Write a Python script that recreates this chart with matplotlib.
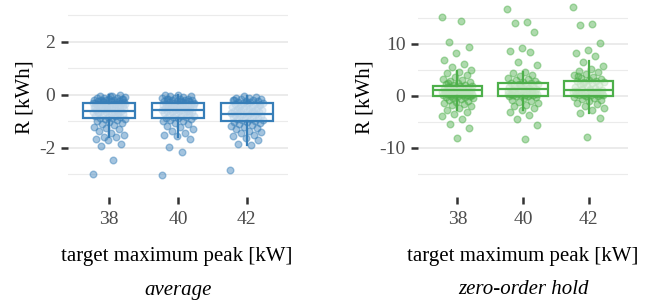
import matplotlib

matplotlib.use("Agg")
import matplotlib.pyplot as plt
import numpy as np

plt.rcParams["font.family"] = ["Liberation Serif", "DejaVu Serif"]

# categories on the x axis (target maximum peak, kW)
peaks = ["38", "40", "42"]

# --- "average" panel: R [kWh] per run
avg_38 = [-2.98, -2.45, -1.92, -1.85, -1.72, -1.65, -1.6, -1.58, -1.5, -1.42,
          -1.38, -1.3, -1.25, -1.2, -1.15, -1.1, -1.05, -1.02, -0.98, -0.95,
          -0.92, -0.9, -0.88, -0.86, -0.84, -0.82, -0.8, -0.78, -0.76, -0.74,
          -0.72, -0.7, -0.68, -0.66, -0.65, -0.63, -0.62, -0.6, -0.59, -0.58,
          -0.56, -0.55, -0.53, -0.52, -0.5, -0.49, -0.48, -0.46, -0.45, -0.44,
          -0.42, -0.41, -0.4, -0.38, -0.37, -0.36, -0.35, -0.34, -0.32, -0.31,
          -0.3, -0.28, -0.27, -0.26, -0.25, -0.24, -0.22, -0.21, -0.2, -0.19,
          -0.18, -0.16, -0.15, -0.13, -0.12, -0.1, -0.08, -0.06, -0.04, -0.02,
          -0.55, -0.45, -0.35, -0.25, -0.15, -0.05, -0.65, -0.7, -0.4, -0.3]
avg_40 = [-3.02, -2.17, -1.96, -1.67, -1.55, -1.5, -1.42, -1.35, -1.28, -1.22,
          -1.16, -1.1, -1.05, -1.0, -0.97, -0.94, -0.91, -0.89, -0.87, -0.85,
          -0.83, -0.8, -0.78, -0.76, -0.74, -0.72, -0.7, -0.68, -0.66, -0.64,
          -0.62, -0.61, -0.6, -0.58, -0.57, -0.56, -0.54, -0.53, -0.52, -0.5,
          -0.49, -0.47, -0.46, -0.45, -0.43, -0.42, -0.41, -0.39, -0.38, -0.37,
          -0.35, -0.34, -0.33, -0.31, -0.3, -0.29, -0.27, -0.26, -0.25, -0.24,
          -0.22, -0.21, -0.2, -0.18, -0.17, -0.15, -0.14, -0.12, -0.1, -0.08,
          -0.06, -0.04, -0.02, 0.0, -0.55, -0.45, -0.35, -0.25, -0.15, -0.6]
avg_42 = [-2.82, -1.89, -1.85, -1.7, -1.62, -1.55, -1.5, -1.45, -1.4, -1.35,
          -1.3, -1.26, -1.22, -1.18, -1.14, -1.1, -1.07, -1.04, -1.01, -0.98,
          -0.96, -0.94, -0.92, -0.9, -0.88, -0.86, -0.84, -0.82, -0.8, -0.78,
          -0.76, -0.75, -0.73, -0.72, -0.7, -0.69, -0.67, -0.66, -0.64, -0.62,
          -0.6, -0.58, -0.56, -0.54, -0.52, -0.5, -0.48, -0.46, -0.44, -0.42,
          -0.4, -0.38, -0.36, -0.34, -0.32, -0.3, -0.28, -0.26, -0.24, -0.22,
          -0.2, -0.18, -0.16, -0.14, -0.12, -0.1, -0.08, -0.05, -0.7, -0.6,
          -0.5, -0.4, -0.3, -0.2]

# box statistics (lower whisker, q1, median, q3, upper whisker)
avg_lo = [-1.6, -1.6, -1.89]
avg_q1 = [-0.88, -0.89, -0.97]
avg_med = [-0.6, -0.58, -0.73]
avg_q3 = [-0.32, -0.29, -0.31]
avg_hi = [-0.02, 0.0, -0.05]

# --- "zero-order hold" panel
zoh_38 = [15.2, 14.3, 10.4, 9.4, 8.15, 6.9, 6.2, 5.5, 5.0, 4.6, 4.4, 4.0, 3.6,
          3.3, 3.0, 2.8, 2.6, 2.4, 2.2, 2.1, 2.0, 1.9, 1.8, 1.7, 1.6, 1.5, 1.4,
          1.3, 1.2, 1.1, 1.0, 0.95, 0.9, 0.85, 0.8, 0.75, 0.7, 0.65, 0.6, 0.55,
          0.5, 0.45, 0.4, 0.35, 0.3, 0.25, 0.2, 0.15, 0.1, 0.05, 0.0, -0.1,
          -0.2, -0.3, -0.4, -0.5, -0.6, -0.8, -1.0, -1.2, -1.4, -1.6, -1.8,
          -2.0, -2.4, -2.7, -3.1, -3.4, -3.8, -4.35, -5.4, -6.15, -8.1,
          1.0, 0.5, 1.5, 0.2, 0.8, 2.5]
zoh_40 = [16.6, 14.1, 14.0, 12.2, 9.1, 8.65, 8.5, 6.4, 6.0, 4.6, 4.4, 4.0, 3.8,
          3.5, 3.2, 3.0, 2.8, 2.6, 2.5, 2.4, 2.3, 2.2, 2.1, 2.0, 1.9, 1.8, 1.7,
          1.6, 1.5, 1.4, 1.3, 1.2, 1.1, 1.0, 0.9, 0.8, 0.7, 0.6, 0.5, 0.45,
          0.4, 0.35, 0.3, 0.25, 0.2, 0.15, 0.1, 0.05, 0.0, -0.1, -0.3, -0.5,
          -0.7, -0.9, -1.1, -1.4, -1.7, -2.0, -2.4, -2.8, -3.1, -3.6, -4.5,
          -5.5, -8.2, 1.2, 0.6, 2.0, 0.3, 1.6]
zoh_42 = [17.0, 13.8, 13.6, 10.1, 8.8, 8.3, 7.6, 6.5, 5.8, 5.2, 4.7, 4.5, 4.2,
          4.0, 3.7, 3.5, 3.3, 3.1, 2.9, 2.8, 2.7, 2.6, 2.5, 2.3, 2.1, 1.9, 1.7,
          1.5, 1.3, 1.2, 1.1, 1.0, 0.9, 0.8, 0.7, 0.6, 0.5, 0.45, 0.4, 0.35,
          0.3, 0.25, 0.2, 0.15, 0.1, 0.05, 0.0, -0.2, -0.4, -0.6, -0.8, -1.0,
          -1.3, -1.6, -2.0, -2.3, -2.7, -3.2, -4.2, -7.9, 1.0, 0.6, 2.2, 0.3,
          1.4, 3.8]

zoh_lo = [-2.75, -2.75, -3.2]
zoh_q1 = [0.05, 0.05, 0.05]
zoh_med = [1.05, 1.25, 1.1]
zoh_q3 = [1.95, 2.55, 2.8]
zoh_hi = [4.7, 4.6, 6.7]

BLUE = "#377eb8"
GREEN = "#4daf4a"
W, H = 670, 308


def px_axes(fig, left, top, right, bottom):
    # axes placed in pixel coords (origin at the top left)
    return fig.add_axes([left / W, 1 - bottom / H, (right - left) / W, (bottom - top) / H])


def px_text(fig, x, y, s, **kw):
    fig.text(x / W, 1 - y / H, s, ha="center", va="center", **kw)


def jitter(n, width=0.24):
    # deterministic low-discrepancy spread, only a horizontal offset
    return ((np.arange(n) * 0.6180339887) % 1.0 - 0.5) * 2 * width


def panel(ax, groups, lo, q1, med, q3, hi, color, ylim, majors, minors):
    for i, vals in enumerate(groups):
        vals = np.asarray(vals)
        ax.plot(i + jitter(len(vals)), vals, "o", ms=4.8, mfc=color, mec=color,
                mew=1.0, alpha=0.45, zorder=2)
    stats = [
        {"whislo": lo[i], "q1": q1[i], "med": med[i], "q3": q3[i], "whishi": hi[i]}
        for i in range(len(groups))
    ]
    ax.bxp(stats, positions=range(len(groups)), widths=0.75, showfliers=False,
           showcaps=False, patch_artist=True,
           boxprops=dict(facecolor=(1, 1, 1, 0.65), edgecolor=color, linewidth=1.6),
           medianprops=dict(color=color, linewidth=1.6),
           whiskerprops=dict(color=color, linewidth=1.6), manage_ticks=False, zorder=3)

    ax.set_xlim(-0.6, 2.6)
    ax.set_ylim(*ylim)
    ax.set_xticks(range(len(peaks)))
    ax.set_xticklabels(peaks)
    ax.set_yticks(majors)
    ax.set_yticks(minors, minor=True)
    ax.set_yticklabels([str(m) for m in majors])
    ax.grid(which="major", axis="y", color="#ebebeb", linewidth=1.4, zorder=0)
    ax.grid(which="minor", axis="y", color="#ebebeb", linewidth=0.8, zorder=0)
    ax.set_axisbelow(True)
    for s in ax.spines.values():
        s.set_visible(False)
    ax.tick_params(axis="both", which="major", length=5, width=1.8, color="#333333",
                   labelsize=14, labelcolor="#4d4d4d")
    ax.tick_params(axis="x", pad=5)
    ax.tick_params(axis="y", pad=4)
    ax.tick_params(axis="y", which="minor", length=0)


fig = plt.figure(figsize=(W / 100, H / 100), dpi=100)

ax1 = px_axes(fig, 68, 2, 288, 197)
panel(ax1, [avg_38, avg_40, avg_42], avg_lo, avg_q1, avg_med, avg_q3, avg_hi, BLUE,
      (-3.85, 3.5), [-2, 0, 2], [-3, -1, 1, 3])

ax2 = px_axes(fig, 418, 2, 628, 197)
panel(ax2, [zoh_38, zoh_40, zoh_42], zoh_lo, zoh_q1, zoh_med, zoh_q3, zoh_hi, GREEN,
      (-19.4, 18.0), [-10, 0, 10], [-15, -5, 5, 15])

# axis titles and captions, placed by pixel centre
px_text(fig, 25, 97, "R [kWh]", rotation=90, fontsize=15)
px_text(fig, 365, 97, "R [kWh]", rotation=90, fontsize=15)
px_text(fig, 177, 257, "target maximum peak [kW]", fontsize=15)
px_text(fig, 523, 257, "target maximum peak [kW]", fontsize=15)
px_text(fig, 178, 290, "average", fontsize=15, style="italic")
px_text(fig, 523, 290, "zero-order hold", fontsize=15, style="italic")

fig.savefig("out.png", dpi=100)
